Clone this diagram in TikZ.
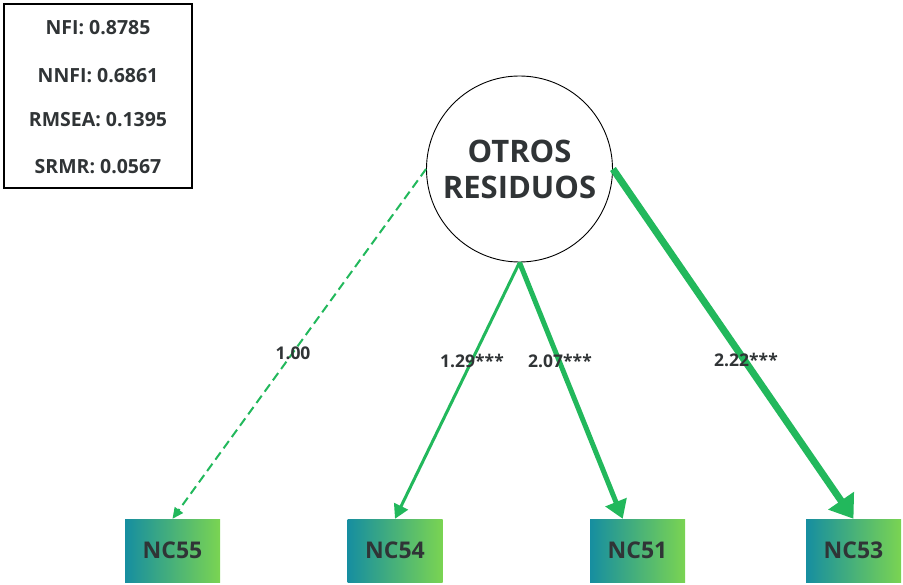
\documentclass[tikz,border=0pt]{standalone}
\usepackage{fontspec}
\setmainfont{Open Sans}
\usetikzlibrary{arrows.meta}
\definecolor{pathgreen}{RGB}{34,184,92}
\definecolor{inktext}{RGB}{48,52,54}
\definecolor{boxteal}{RGB}{22,142,160}
\definecolor{boxlime}{RGB}{122,212,82}
\tikzset{
  fitline/.style={font=\bfseries\fontsize{19.5}{22}\selectfont, text=inktext, inner sep=0pt},
  latent/.style={circle, draw=black, line width=0.9pt, minimum size=186pt, inner sep=0pt,
    font=\bfseries\fontsize{31}{36}\selectfont, text=inktext, align=center},
  indicator/.style={rectangle, shading=axis, left color=boxteal, right color=boxlime,
    minimum width=95pt, minimum height=63pt, inner sep=0pt,
    font=\bfseries\fontsize{23}{26}\selectfont, text=inktext},
  loadlabel/.style={font=\bfseries\fontsize{17.5}{20}\selectfont, text=inktext, inner sep=0pt},
  loading/.style={draw=pathgreen, line cap=butt}
}
\begin{document}
\begin{tikzpicture}[x=1pt, y=-1pt]
\useasboundingbox (0,0) rectangle (903,585);

% goodness-of-fit summary
\node[draw=black, line width=1.8pt, minimum width=188pt, minimum height=184pt, inner sep=0pt] (fitbox) at (98,96) {};
\node[fitline] (nfi) at (98,28) {NFI: 0.8785};
\node[fitline] (nnfi) at (98,76) {NNFI: 0.6861};
\node[fitline] (rmsea) at (98,120) {RMSEA: 0.1395};
\node[fitline] (srmr) at (98,167) {SRMR: 0.0567};

% latent factor
\node[latent] (otros) at (519.5,169) {OTROS\\RESIDUOS};

% observed indicators
\node[indicator] (nc55) at (172.5,550.5) {NC55};
\node[indicator] (nc54) at (395,550.5) {NC54};
\node[indicator] (nc51) at (637.5,550.5) {NC51};
\node[indicator] (nc53) at (853.5,550.5) {NC53};

% factor loadings
\draw[loading, line width=2pt, dash pattern=on 9pt off 5pt,
  -{Triangle[length=11pt, width=10pt]}] (otros.west) -- (nc55.north);
\draw[loading, line width=3pt,
  -{Triangle[length=14pt, width=15pt]}] (otros.south) -- (nc54.north);
\draw[loading, line width=5pt,
  -{Triangle[length=18pt, width=22pt]}] (otros.south) -- (nc51.115);
\draw[loading, line width=7pt,
  -{Triangle[length=22pt, width=30pt]}] (otros.east) -- (nc53.north);

% loading estimates
\node[loadlabel] (l55) at (293,353) {1.00};
\node[loadlabel] (l54) at (472,361) {1.29***};
\node[loadlabel] (l51) at (560,361) {2.07***};
\node[loadlabel] (l53) at (746,360) {2.22***};
\end{tikzpicture}
\end{document}
